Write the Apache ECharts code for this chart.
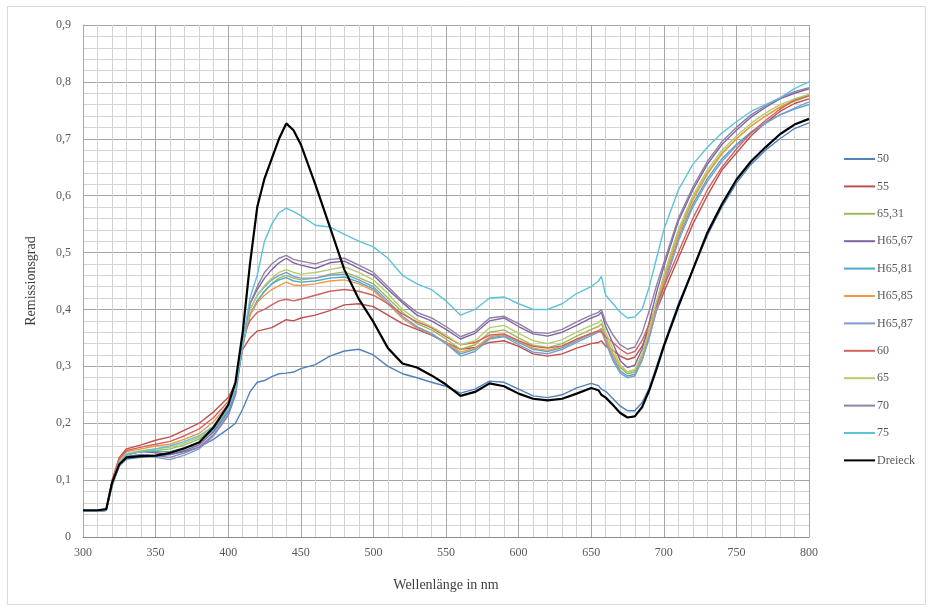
<!DOCTYPE html>
<html>
<head>
<meta charset="utf-8">
<script src="https://cdn.jsdelivr.net/npm/echarts@6/dist/echarts.min.js"></script>
<style>
  html, body { margin: 0; padding: 0; background: #ffffff; }
  #chart { width: 933px; height: 608px; }
</style>
</head>
<body>
<div id="chart"></div>
<script>
// Wellenlängen (nm), gemeinsam für alle Messreihen
const wavelengths = [300, 310, 316, 320, 325, 330, 340, 350, 360, 370, 380, 390, 400,
  405, 410, 415, 420, 425, 430, 435, 440, 445, 450, 460, 470, 480, 490, 500,
  510, 520, 530, 540, 550, 560, 570, 580, 590, 600, 610, 620, 630, 640, 650,
  655, 657, 660, 665, 670, 675, 680, 685, 690, 695, 700, 710, 720, 730, 740,
  750, 760, 770, 780, 790, 800];

// Remissionsgrad je Probe
const r50 = [0.045, 0.045, 0.047, 0.090, 0.125, 0.137, 0.140, 0.142, 0.145, 0.150, 0.158, 0.172, 0.190,
  0.200, 0.225, 0.255, 0.272, 0.275, 0.282, 0.287, 0.288, 0.290, 0.296, 0.303, 0.318, 0.327, 0.330, 0.320,
  0.300, 0.287, 0.280, 0.272, 0.265, 0.253, 0.260, 0.274, 0.272, 0.260, 0.248, 0.245, 0.250, 0.262, 0.270,
  0.266, 0.260, 0.256, 0.243, 0.230, 0.222, 0.222, 0.236, 0.262, 0.300, 0.338, 0.410, 0.470, 0.530, 0.580,
  0.622, 0.655, 0.680, 0.700, 0.718, 0.728];

const r55 = [0.046, 0.046, 0.048, 0.100, 0.140, 0.155, 0.162, 0.170, 0.176, 0.188, 0.200, 0.220, 0.245,
  0.270, 0.330, 0.350, 0.362, 0.365, 0.368, 0.375, 0.382, 0.380, 0.385, 0.390, 0.398, 0.408, 0.410, 0.405,
  0.390, 0.375, 0.365, 0.355, 0.342, 0.330, 0.333, 0.342, 0.345, 0.335, 0.322, 0.318, 0.322, 0.332, 0.340,
  0.342, 0.345, 0.335, 0.328, 0.318, 0.312, 0.316, 0.335, 0.365, 0.398, 0.430, 0.490, 0.550, 0.600, 0.645,
  0.675, 0.705, 0.728, 0.748, 0.762, 0.770];

const r6531 = [0.046, 0.046, 0.048, 0.093, 0.130, 0.145, 0.150, 0.152, 0.155, 0.162, 0.172, 0.192, 0.225,
  0.260, 0.335, 0.390, 0.415, 0.432, 0.445, 0.455, 0.460, 0.455, 0.452, 0.455, 0.462, 0.466, 0.456, 0.445,
  0.420, 0.395, 0.375, 0.364, 0.348, 0.330, 0.338, 0.360, 0.364, 0.350, 0.337, 0.333, 0.340, 0.353, 0.365,
  0.370, 0.375, 0.352, 0.322, 0.298, 0.287, 0.290, 0.318, 0.360, 0.410, 0.455, 0.535, 0.595, 0.640, 0.675,
  0.700, 0.722, 0.740, 0.755, 0.766, 0.775];

const rH6567 = [0.045, 0.045, 0.047, 0.093, 0.130, 0.145, 0.150, 0.148, 0.145, 0.152, 0.162, 0.185, 0.220,
  0.255, 0.345, 0.410, 0.435, 0.455, 0.470, 0.482, 0.490, 0.482, 0.478, 0.472, 0.482, 0.485, 0.472, 0.460,
  0.435, 0.412, 0.390, 0.380, 0.365, 0.348, 0.358, 0.380, 0.385, 0.370, 0.357, 0.353, 0.360, 0.372, 0.385,
  0.390, 0.395, 0.370, 0.340, 0.310, 0.298, 0.302, 0.330, 0.378, 0.430, 0.475, 0.555, 0.610, 0.655, 0.690,
  0.715, 0.738, 0.755, 0.770, 0.780, 0.788];

const rH6581 = [0.045, 0.045, 0.047, 0.092, 0.130, 0.145, 0.150, 0.150, 0.150, 0.157, 0.167, 0.188, 0.222,
  0.258, 0.340, 0.390, 0.415, 0.432, 0.445, 0.452, 0.456, 0.450, 0.448, 0.450, 0.455, 0.457, 0.448, 0.436,
  0.410, 0.385, 0.367, 0.356, 0.340, 0.322, 0.330, 0.350, 0.354, 0.342, 0.330, 0.326, 0.333, 0.345, 0.357,
  0.362, 0.366, 0.345, 0.315, 0.292, 0.283, 0.286, 0.312, 0.352, 0.400, 0.445, 0.525, 0.585, 0.630, 0.665,
  0.690, 0.712, 0.728, 0.742, 0.752, 0.760];

const rH6585 = [0.046, 0.046, 0.048, 0.095, 0.134, 0.150, 0.155, 0.160, 0.163, 0.172, 0.182, 0.203, 0.233,
  0.265, 0.345, 0.390, 0.412, 0.425, 0.435, 0.442, 0.448, 0.443, 0.442, 0.445, 0.450, 0.452, 0.445, 0.433,
  0.410, 0.385, 0.368, 0.357, 0.342, 0.325, 0.332, 0.352, 0.356, 0.344, 0.332, 0.328, 0.335, 0.347, 0.358,
  0.363, 0.367, 0.348, 0.320, 0.298, 0.290, 0.293, 0.320, 0.360, 0.405, 0.450, 0.530, 0.592, 0.638, 0.673,
  0.700, 0.722, 0.740, 0.756, 0.768, 0.778];

const rH6587 = [0.045, 0.045, 0.047, 0.090, 0.127, 0.140, 0.143, 0.140, 0.136, 0.144, 0.155, 0.178, 0.213,
  0.250, 0.335, 0.400, 0.425, 0.440, 0.452, 0.460, 0.465, 0.458, 0.455, 0.455, 0.460, 0.462, 0.452, 0.440,
  0.415, 0.388, 0.370, 0.358, 0.340, 0.318, 0.326, 0.348, 0.352, 0.338, 0.325, 0.322, 0.330, 0.342, 0.354,
  0.360, 0.364, 0.342, 0.310, 0.288, 0.280, 0.283, 0.310, 0.350, 0.398, 0.440, 0.520, 0.580, 0.625, 0.660,
  0.688, 0.710, 0.727, 0.742, 0.754, 0.765];

const r60 = [0.046, 0.046, 0.048, 0.098, 0.138, 0.152, 0.158, 0.163, 0.168, 0.178, 0.190, 0.210, 0.238,
  0.268, 0.350, 0.380, 0.395, 0.400, 0.408, 0.415, 0.418, 0.415, 0.418, 0.425, 0.432, 0.435, 0.432, 0.425,
  0.410, 0.392, 0.378, 0.368, 0.352, 0.338, 0.342, 0.355, 0.357, 0.345, 0.335, 0.332, 0.336, 0.348, 0.358,
  0.362, 0.360, 0.352, 0.342, 0.330, 0.322, 0.326, 0.345, 0.375, 0.408, 0.440, 0.500, 0.560, 0.610, 0.650,
  0.682, 0.710, 0.732, 0.752, 0.768, 0.776];

const r65 = [0.046, 0.046, 0.048, 0.094, 0.132, 0.147, 0.152, 0.155, 0.158, 0.165, 0.175, 0.195, 0.228,
  0.262, 0.340, 0.400, 0.425, 0.442, 0.455, 0.465, 0.470, 0.465, 0.462, 0.465, 0.470, 0.475, 0.465, 0.452,
  0.428, 0.400, 0.382, 0.370, 0.355, 0.338, 0.345, 0.368, 0.372, 0.358, 0.345, 0.340, 0.347, 0.360, 0.372,
  0.377, 0.382, 0.360, 0.330, 0.302, 0.290, 0.294, 0.322, 0.365, 0.415, 0.460, 0.540, 0.600, 0.645, 0.680,
  0.705, 0.727, 0.745, 0.760, 0.770, 0.778];

const r70 = [0.045, 0.045, 0.047, 0.092, 0.128, 0.142, 0.145, 0.143, 0.140, 0.148, 0.158, 0.180, 0.215,
  0.250, 0.340, 0.410, 0.440, 0.465, 0.480, 0.490, 0.495, 0.488, 0.485, 0.480, 0.488, 0.490, 0.478, 0.465,
  0.440, 0.415, 0.395, 0.385, 0.370, 0.352, 0.362, 0.385, 0.388, 0.375, 0.360, 0.358, 0.365, 0.378, 0.390,
  0.395, 0.400, 0.378, 0.355, 0.338, 0.330, 0.334, 0.358, 0.398, 0.442, 0.482, 0.560, 0.615, 0.660, 0.695,
  0.720, 0.742, 0.758, 0.772, 0.783, 0.790];

const r75 = [0.046, 0.046, 0.048, 0.092, 0.130, 0.145, 0.150, 0.155, 0.160, 0.168, 0.178, 0.195, 0.225,
  0.260, 0.340, 0.420, 0.460, 0.520, 0.550, 0.570, 0.578, 0.572, 0.565, 0.548, 0.545, 0.532, 0.520, 0.510,
  0.490, 0.460, 0.445, 0.435, 0.415, 0.390, 0.400, 0.420, 0.422, 0.410, 0.400, 0.400, 0.410, 0.428, 0.440,
  0.450, 0.458, 0.425, 0.410, 0.395, 0.385, 0.387, 0.400, 0.440, 0.490, 0.540, 0.610, 0.655, 0.685, 0.710,
  0.730, 0.748, 0.760, 0.772, 0.788, 0.800];

const rDreieck = [0.047, 0.047, 0.049, 0.095, 0.128, 0.140, 0.142, 0.143, 0.148, 0.156, 0.166, 0.193, 0.232,
  0.272, 0.360, 0.480, 0.580, 0.630, 0.665, 0.700, 0.727, 0.715, 0.690, 0.620, 0.545, 0.470, 0.418, 0.378,
  0.332, 0.305, 0.298, 0.284, 0.268, 0.248, 0.255, 0.270, 0.265, 0.252, 0.243, 0.240, 0.243, 0.252, 0.262,
  0.258, 0.250, 0.245, 0.232, 0.218, 0.210, 0.212, 0.228, 0.258, 0.295, 0.335, 0.405, 0.470, 0.535, 0.585,
  0.628, 0.660, 0.685, 0.708, 0.725, 0.735];

const seriesNames = ['50', '55', '65,31', 'H65,67', 'H65,81', 'H65,85', 'H65,87', '60', '65', '70', '75', 'Dreieck'];
const seriesValues = [r50, r55, r6531, rH6567, rH6581, rH6585, rH6587, r60, r65, r70, r75, rDreieck];
const seriesColors = ['#4F81BD', '#C0504D', '#9BBB59', '#8064A2', '#4BACC6', '#F79646',
  '#7E9BCF', '#D2625F', '#B7CB6E', '#8E80A8', '#5CC3DA', '#000000'];

const xTicks = { min: 300, max: 800, step: 50 };
const yTicks = { min: 0, max: 0.9, step: 0.1 };

const serif = '"Liberation Serif", "DejaVu Serif", serif';

const chart = echarts.init(document.getElementById('chart'), null, { renderer: 'canvas' });

const series = seriesNames.map((name, i) => ({
  name: name,
  type: 'line',
  data: wavelengths.map((w, j) => [w, seriesValues[i][j]]),
  showSymbol: false,
  symbol: 'none',
  smooth: false,
  z: name === 'Dreieck' ? 5 : 2,
  lineStyle: { color: seriesColors[i], width: name === 'Dreieck' ? 2.2 : 1.4 },
  itemStyle: { color: seriesColors[i] },
  emphasis: { disabled: true }
}));

chart.setOption({
  backgroundColor: '#ffffff',
  animation: false,
  graphic: [{
    type: 'rect',
    shape: { x: 7.5, y: 6.5, width: 918, height: 598 },
    style: { fill: 'none', stroke: '#d9d9d9', lineWidth: 1 },
    silent: true
  }],
  grid: { left: 83, top: 25, width: 726, height: 512, containLabel: false },
  legend: {
    orient: 'vertical',
    left: 839,
    top: 148,
    itemWidth: 31,
    itemHeight: 2,
    itemGap: 15.4,
    icon: 'rect',
    selectedMode: false,
    textStyle: { fontFamily: serif, fontSize: 12, color: '#595959', padding: [0, 0, 0, -3] },
    data: seriesNames
  },
  xAxis: {
    type: 'value',
    min: xTicks.min,
    max: xTicks.max,
    interval: xTicks.step,
    name: 'Wellenlänge in nm',
    nameLocation: 'middle',
    nameGap: 41,
    nameTextStyle: { fontFamily: serif, fontSize: 14, color: '#404040' },
    axisLine: { show: true, lineStyle: { color: '#8c8c8c', width: 1 } },
    axisTick: { show: false },
    axisLabel: { fontFamily: serif, fontSize: 12, color: '#595959', margin: 10 },
    splitLine: { show: true, lineStyle: { color: '#a6a6a6', width: 1 } },
    minorTick: { show: false, splitNumber: 5 },
    minorSplitLine: { show: true, lineStyle: { color: '#d3d3d3', width: 1 } }
  },
  yAxis: {
    type: 'value',
    min: yTicks.min,
    max: yTicks.max,
    interval: yTicks.step,
    name: 'Remissionsgrad',
    nameLocation: 'middle',
    nameGap: 45,
    nameTextStyle: { fontFamily: serif, fontSize: 14, color: '#404040' },
    axisLine: { show: true, lineStyle: { color: '#a6a6a6', width: 1 } },
    axisTick: { show: false },
    axisLabel: {
      fontFamily: serif, fontSize: 12, color: '#595959', margin: 12,
      formatter: v => (Math.round(v * 10) / 10).toString().replace('.', ',')
    },
    splitLine: { show: true, lineStyle: { color: '#a6a6a6', width: 1 } },
    minorTick: { show: false, splitNumber: 5 },
    minorSplitLine: { show: true, lineStyle: { color: '#d3d3d3', width: 1 } }
  },
  series: series
});
</script>
</body>
</html>
